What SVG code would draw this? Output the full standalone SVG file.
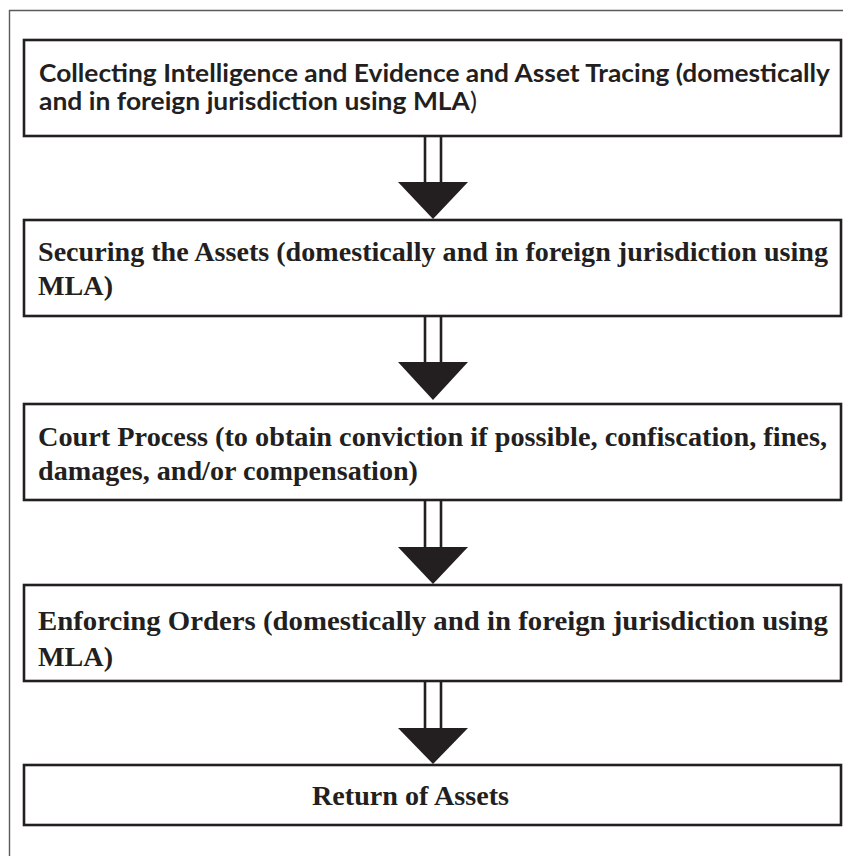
<svg xmlns="http://www.w3.org/2000/svg" width="843" height="856" viewBox="0 0 843 856">
<style>
.box{fill:#fff;stroke:#231f20;stroke-width:2.6}
.cal{font-family:Lato,"Open Sans","Liberation Sans",sans-serif;font-weight:bold;font-size:24.5px;fill:#231f20}
.tms{font-family:"Liberation Serif","Times New Roman",serif;font-weight:bold;font-size:28px;fill:#231f20}
.shaft{stroke:#231f20;stroke-width:2.6;fill:none}
.head{fill:#231f20}
.reg{font-weight:normal}
</style>
<rect width="843" height="856" fill="#fff"/>
<path d="M9.5 856 V10.5 H843" fill="none" stroke="#5a5a5a" stroke-width="1.4"/>
<g id="connectors">
  <g id="arrow1">
    <line class="shaft" x1="425" y1="136" x2="425" y2="183"/>
    <line class="shaft" x1="441" y1="136" x2="441" y2="183"/>
    <polygon class="head" points="398,182 468,182 433,219"/>
  </g>
  <g id="arrow2">
    <line class="shaft" x1="425" y1="316" x2="425" y2="363"/>
    <line class="shaft" x1="441" y1="316" x2="441" y2="363"/>
    <polygon class="head" points="398,362 468,362 433,400"/>
  </g>
  <g id="arrow3">
    <line class="shaft" x1="425" y1="500" x2="425" y2="548"/>
    <line class="shaft" x1="441" y1="500" x2="441" y2="548"/>
    <polygon class="head" points="398,547 468,547 433,584"/>
  </g>
  <g id="arrow4">
    <line class="shaft" x1="425" y1="681" x2="425" y2="729"/>
    <line class="shaft" x1="441" y1="681" x2="441" y2="729"/>
    <polygon class="head" points="398,728 468,728 433,764"/>
  </g>
</g>
<g id="node1">
  <rect class="box" x="24" y="40" width="817" height="96"/>
  <text class="cal" x="39" y="82" textLength="791" lengthAdjust="spacingAndGlyphs">Collecting Intelligence and Evidence and Asset Tracing (domestically</text>
  <text class="cal" x="39" y="110" textLength="438" lengthAdjust="spacingAndGlyphs">and in foreign jurisdiction using MLA<tspan class="reg">)</tspan></text>
</g>
<g id="node2">
  <rect class="box" x="24" y="220" width="817" height="96"/>
  <text class="tms" x="38" y="261" textLength="790" lengthAdjust="spacingAndGlyphs">Securing the Assets (domestically and in foreign jurisdiction using</text>
  <text class="tms" x="38" y="295" textLength="75" lengthAdjust="spacingAndGlyphs">MLA)</text>
</g>
<g id="node3">
  <rect class="box" x="24" y="404" width="817" height="96"/>
  <text class="tms" x="38" y="446" textLength="789" lengthAdjust="spacingAndGlyphs">Court Process (to obtain conviction if possible, confiscation, fines,</text>
  <text class="tms" x="38" y="480" textLength="380" lengthAdjust="spacingAndGlyphs">damages, and/or compensation)</text>
</g>
<g id="node4">
  <rect class="box" x="24" y="585" width="817" height="96"/>
  <text class="tms" x="38" y="630" textLength="790" lengthAdjust="spacingAndGlyphs">Enforcing Orders (domestically and in foreign jurisdiction using</text>
  <text class="tms" x="38" y="666" textLength="75" lengthAdjust="spacingAndGlyphs">MLA)</text>
</g>
<g id="node5">
  <rect class="box" x="24" y="765" width="817" height="60"/>
  <text class="tms" x="312" y="805" textLength="197" lengthAdjust="spacingAndGlyphs">Return of Assets</text>
</g>
</svg>
